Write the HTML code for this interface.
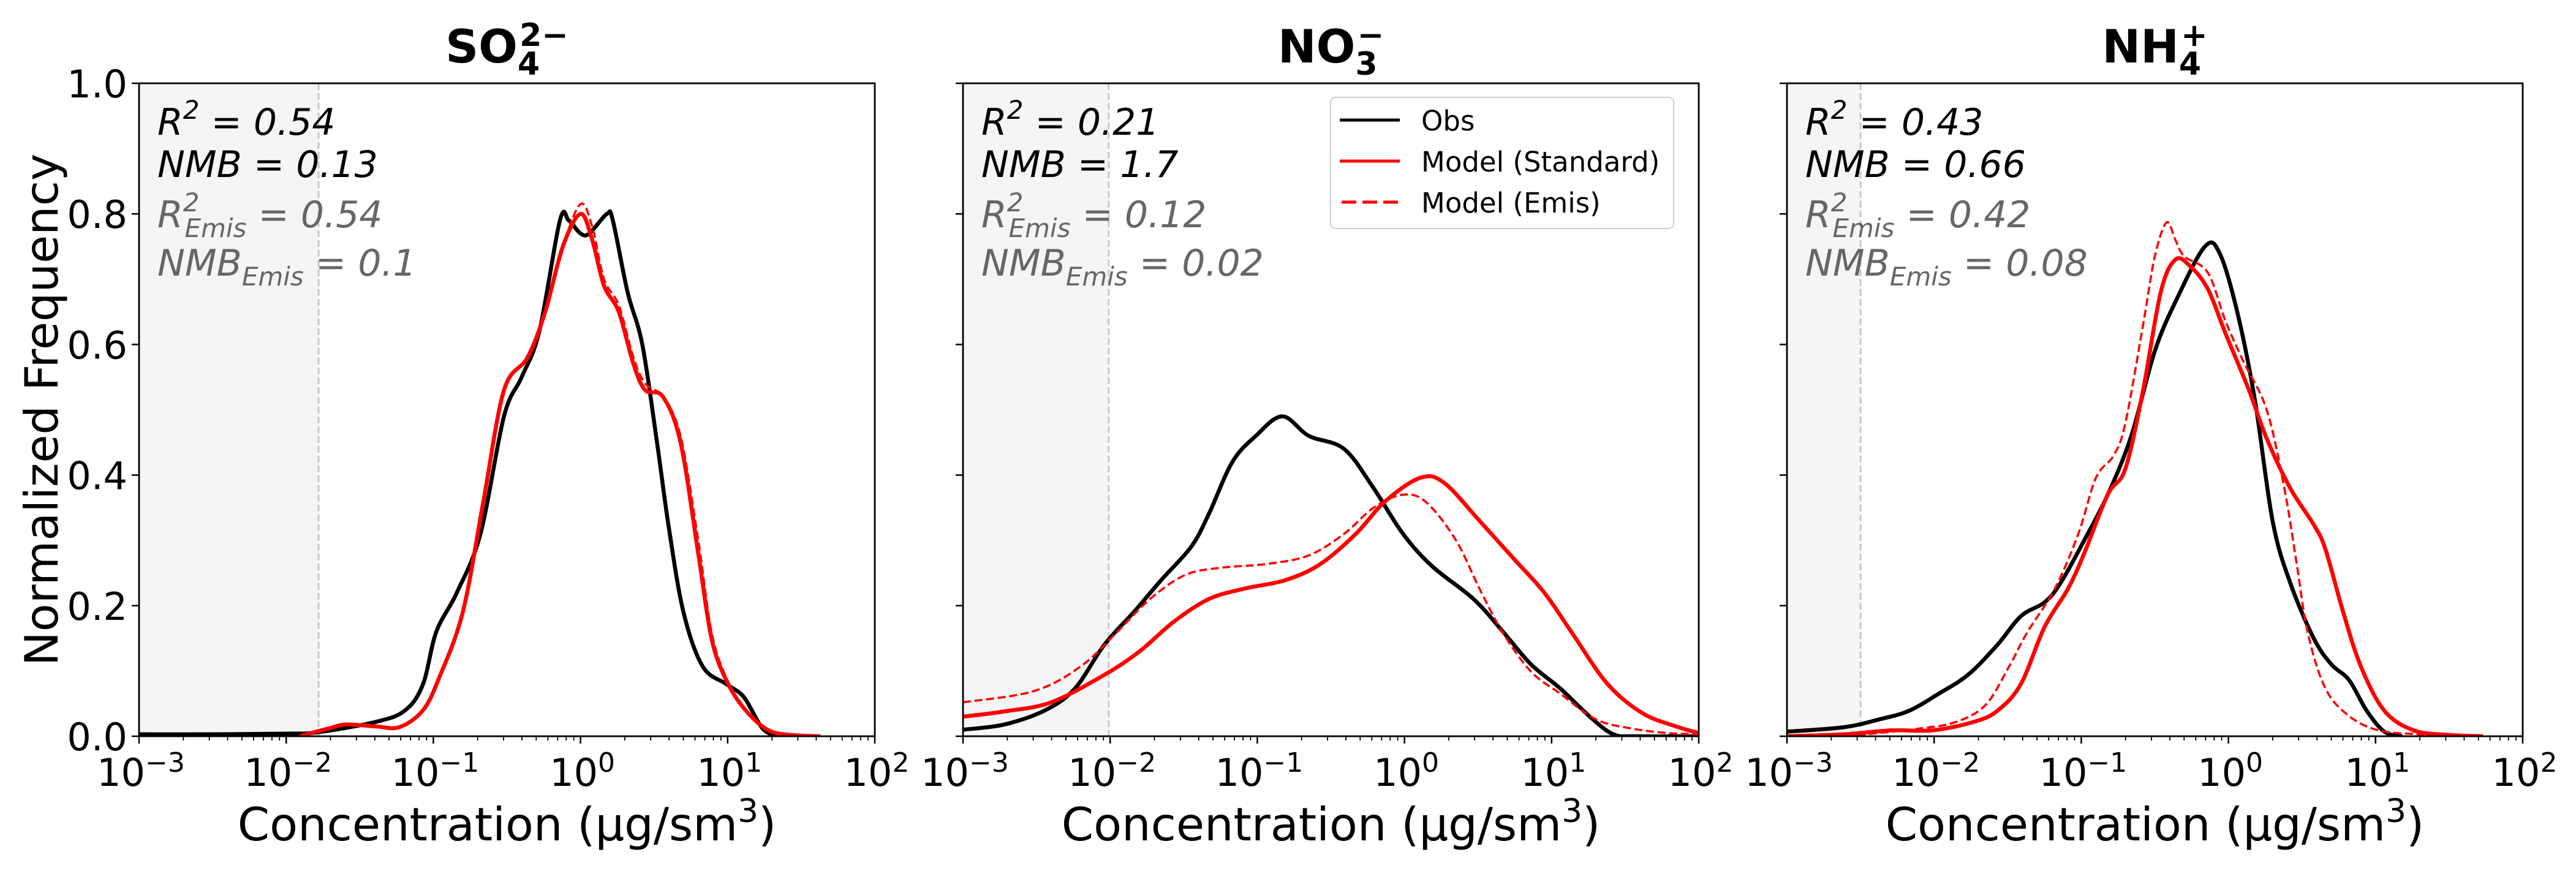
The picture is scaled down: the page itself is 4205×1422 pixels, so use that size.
<!DOCTYPE html>
<html><head><meta charset="utf-8"><style>
html,body{margin:0;padding:0;background:#fff;}
svg{display:block;font-family:"DejaVu Sans","Liberation Sans",sans-serif;}
</style></head><body>
<svg id="chart" width="4205" height="1422" viewBox="0 0 4205 1422" xmlns="http://www.w3.org/2000/svg"></svg>
<script>
// ---- data (x as log10 concentration, y normalized frequency) ----
const xTickExps = [-3, -2, -1, 0, 1, 2];
const yTicks = [0, 0.2, 0.4, 0.6, 0.8, 1.0];
const yTickLabels = ["0.0", "0.2", "0.4", "0.6", "0.8", "1.0"];

const so4ObsX = [-3,-2.5,-2,-1.79,-1.39,-1.19,-1.07,-0.98,-0.84,-0.68,-0.52,-0.40,-0.28,-0.14,-0.08,0.0,0.06,0.18,0.22,0.32,0.42,0.52,0.60,0.70,0.83,0.99,1.11,1.23,1.31,1.36];
const so4ObsY = [0.003,0.003,0.004,0.006,0.022,0.04,0.08,0.16,0.22,0.31,0.49,0.55,0.62,0.79,0.79,0.77,0.77,0.80,0.79,0.68,0.60,0.45,0.32,0.19,0.107,0.08,0.06,0.014,0.002,0];
const so4StdX = [-1.91,-1.71,-1.59,-1.39,-1.23,-1.07,-0.96,-0.80,-0.66,-0.52,-0.36,-0.24,-0.12,0.0,0.08,0.16,0.26,0.36,0.44,0.56,0.68,0.80,0.89,0.99,1.11,1.27,1.43,1.63];
const so4StdY = [0,0.012,0.018,0.015,0.014,0.04,0.09,0.19,0.36,0.53,0.58,0.65,0.75,0.80,0.76,0.69,0.65,0.57,0.53,0.52,0.45,0.28,0.15,0.086,0.043,0.01,0.002,0];
const so4EmisX = [-1.91,-1.71,-1.59,-1.39,-1.23,-1.07,-0.96,-0.80,-0.66,-0.52,-0.36,-0.24,-0.12,0.0,0.08,0.16,0.26,0.36,0.44,0.56,0.68,0.80,0.89,0.99,1.11,1.27,1.43,1.63];
const so4EmisY = [0,0.012,0.018,0.015,0.014,0.04,0.09,0.19,0.36,0.53,0.58,0.65,0.75,0.815,0.78,0.70,0.66,0.58,0.54,0.52,0.46,0.30,0.16,0.09,0.045,0.01,0.002,0];

const no3ObsX = [-3,-2.72,-2.44,-2.24,-2.04,-1.84,-1.65,-1.45,-1.33,-1.17,-1.01,-0.83,-0.65,-0.41,-0.21,-0.01,0.19,0.47,0.67,0.86,1.06,1.26,1.42,1.58,2.0];
const no3ObsY = [0.01,0.018,0.04,0.073,0.14,0.19,0.24,0.29,0.34,0.42,0.46,0.49,0.46,0.44,0.38,0.31,0.26,0.21,0.16,0.11,0.073,0.03,0.003,0,0];
const no3StdX = [-3,-2.72,-2.40,-2.04,-1.80,-1.57,-1.33,-1.09,-0.81,-0.57,-0.33,-0.13,0.11,0.27,0.51,0.75,0.95,1.14,1.38,1.62,1.86,2.0];
const no3StdY = [0.03,0.038,0.052,0.094,0.13,0.175,0.21,0.226,0.239,0.264,0.31,0.36,0.396,0.388,0.33,0.27,0.22,0.158,0.08,0.035,0.014,0.005];
const no3EmisX = [-3,-2.52,-2.2,-1.96,-1.73,-1.49,-1.25,-0.93,-0.65,-0.41,-0.21,-0.01,0.15,0.35,0.51,0.67,0.86,1.06,1.30,1.54,1.78,2.0];
const no3EmisY = [0.052,0.069,0.107,0.158,0.21,0.247,0.258,0.264,0.277,0.31,0.35,0.37,0.358,0.30,0.226,0.158,0.099,0.065,0.026,0.012,0.005,0.003];

const nh4ObsX = [-3,-2.61,-2.37,-2.17,-1.97,-1.77,-1.57,-1.41,-1.25,-1.14,-0.98,-0.82,-0.66,-0.50,-0.35,-0.16,-0.06,0.06,0.18,0.30,0.42,0.58,0.70,0.82,0.94,1.06,1.18];
const nh4ObsY = [0.007,0.014,0.026,0.039,0.065,0.094,0.14,0.184,0.205,0.235,0.30,0.37,0.46,0.59,0.67,0.75,0.74,0.65,0.515,0.33,0.235,0.15,0.11,0.086,0.039,0.007,0];
const nh4StdX = [-3,-2.61,-2.29,-2.01,-1.73,-1.57,-1.41,-1.25,-1.09,-0.98,-0.82,-0.70,-0.58,-0.46,-0.36,-0.26,-0.14,-0.02,0.14,0.26,0.42,0.58,0.66,0.78,0.90,1.06,1.26,1.50,1.73];
const nh4StdY = [0,0.003,0.009,0.009,0.022,0.039,0.08,0.167,0.226,0.28,0.37,0.41,0.53,0.68,0.73,0.72,0.685,0.617,0.53,0.456,0.38,0.324,0.286,0.19,0.107,0.039,0.009,0.002,0];
const nh4EmisX = [-2.6,-2.09,-1.85,-1.65,-1.49,-1.37,-1.18,-1.02,-0.90,-0.78,-0.70,-0.58,-0.50,-0.42,-0.36,-0.30,-0.14,-0.02,0.10,0.26,0.38,0.46,0.54,0.66,0.82,1.02,1.30,1.62];
const nh4EmisY = [0,0.012,0.022,0.048,0.107,0.158,0.226,0.31,0.396,0.43,0.48,0.63,0.735,0.787,0.76,0.735,0.71,0.636,0.575,0.50,0.38,0.27,0.158,0.073,0.031,0.009,0.003,0];

const panels = [
  {key:"so4", left:227, lod:-1.78, main:"SO", sub:"4", sup:"2\u2212", stats:["0.54","0.13","0.54","0.1"],
   obs:[so4ObsX,so4ObsY], std:[so4StdX,so4StdY], emis:[so4EmisX,so4EmisY]},
  {key:"no3", left:1572, lod:-2.01, main:"NO", sub:"3", sup:"\u2212", stats:["0.21","1.7","0.12","0.02"],
   obs:[no3ObsX,no3ObsY], std:[no3StdX,no3StdY], emis:[no3EmisX,no3EmisY]},
  {key:"nh4", left:2917, lod:-2.5, main:"NH", sub:"4", sup:"+", stats:["0.43","0.66","0.42","0.08"],
   obs:[nh4ObsX,nh4ObsY], std:[nh4StdX,nh4StdY], emis:[nh4EmisX,nh4EmisY]}
];

const W = 1201, TOP = 136, BOT = 1202;
const NS = "http://www.w3.org/2000/svg";
const svg = document.getElementById("chart");
function el(tag, attrs, parent){
  const e = document.createElementNS(NS, tag);
  for (const k in attrs) e.setAttribute(k, attrs[k]);
  (parent||svg).appendChild(e);
  return e;
}
function smoothPath(pts){
  let d = "M"+pts[0][0].toFixed(1)+","+pts[0][1].toFixed(1);
  for (let i=0;i<pts.length-1;i++){
    const p0=pts[Math.max(0,i-1)], p1=pts[i], p2=pts[i+1], p3=pts[Math.min(pts.length-1,i+2)];
    const c1x=p1[0]+(p2[0]-p0[0])/6, c1y=p1[1]+(p2[1]-p0[1])/6;
    const c2x=p2[0]-(p3[0]-p1[0])/6, c2y=p2[1]-(p3[1]-p1[1])/6;
    d+=" C"+c1x.toFixed(1)+","+c1y.toFixed(1)+" "+c2x.toFixed(1)+","+c2y.toFixed(1)+" "+p2[0].toFixed(1)+","+p2[1].toFixed(1);
  }
  return d;
}

panels.forEach((p, pi) => {
  const xs = e => p.left + (e + 3) / 5 * W;
  const ys = v => BOT - v * (BOT - TOP);
  const g = el("g", {});
  
  

  const sh = el("rect", {x:p.left, y:TOP, width:xs(p.lod)-p.left, height:BOT-TOP, fill:"#f5f5f5"}, g);
  
  
  const vl = el("line", {x1:xs(p.lod), x2:xs(p.lod), y1:TOP, y2:BOT, stroke:"#c8c8c8", "stroke-width":3, "stroke-dasharray":"11,5"}, g);
  
  

  const series = [
    {d:p.obs, color:"#000", w:6.5, dash:null, name:"obs-curve"},
    {d:p.emis, color:"#ff0000", w:3.6, dash:"13,6", name:"model-emis-curve"},
    {d:p.std, color:"#ff0000", w:6.5, dash:null, name:"model-standard-curve"}
  ];
  const clip = el("clipPath", {id:"clip"+pi}, g);
  el("rect", {x:p.left, y:TOP-10, width:W, height:BOT-TOP+10}, clip);
  series.forEach(s => {
    const pts = s.d[0].map((x,i) => [xs(x), ys(s.d[1][i])]);
    const attrs = {d:smoothPath(pts), fill:"none", stroke:s.color, "stroke-width":s.w, "stroke-linejoin":"round", "clip-path":"url(#clip"+pi+")"};
    if (s.dash) attrs["stroke-dasharray"] = s.dash;
    const path = el("path", attrs, g);
    
    
  });

  const fr = el("rect", {x:p.left, y:TOP, width:W, height:BOT-TOP, fill:"none", stroke:"#000", "stroke-width":2.8}, g);
  
  

  xTickExps.forEach(e => {
    const x = xs(e);
    el("line", {x1:x, x2:x, y1:BOT, y2:BOT+12, stroke:"#000", "stroke-width":2.5}, g);
    const t = el("text", {x:x+3, y:1283, "font-size":62, "text-anchor":"middle", fill:"#000"}, g);
    
    
    const a = el("tspan", {}, t); a.textContent = "10";
    const b = el("tspan", {dy:-23, "font-size":44}, t); b.textContent = (e < 0 ? "\u2212" : "") + Math.abs(e);
    if (e < 2) for (let m=2;m<=9;m++){
      const xm = xs(e + Math.log10(m));
      el("line", {x1:xm, x2:xm, y1:BOT, y2:BOT+7, stroke:"#000", "stroke-width":1.8}, g);
    }
  });
  yTicks.forEach((v,i) => {
    const y = ys(v);
    el("line", {x1:p.left-12, x2:p.left, y1:y, y2:y, stroke:"#000", "stroke-width":2.5}, g);
    if (pi === 0){
      const t = el("text", {x:208, y:y+23, "font-size":62, "text-anchor":"end", fill:"#000"}, g);
      
      
      t.textContent = yTickLabels[i];
    }
  });

  const cx = p.left + W/2;
  const tt = el("text", {x:cx, y:102, "font-size":75, "font-weight":"bold", "text-anchor":"middle", fill:"#000"}, g);
  
  
  const t1 = el("tspan", {}, tt); t1.textContent = p.main;
  const t2 = el("tspan", {dy:20, "font-size":52}, tt); t2.textContent = p.sub;
  const t3 = el("tspan", {dx:-33, dy:-47, "font-size":52}, tt); t3.textContent = p.sup;

  const xl = el("text", {x:cx, y:1372, "font-size":75, "text-anchor":"middle", fill:"#000"}, g);
  
  
  const x1 = el("tspan", {}, xl); x1.textContent = "Concentration (\u00b5g/sm";
  const x2 = el("tspan", {dy:-30, "font-size":53}, xl); x2.textContent = "3";
  const x3 = el("tspan", {dy:30}, xl); x3.textContent = ")";

  const ax = p.left + 30;
  const s1 = el("text", {x:ax, y:220, "font-size":60, "font-style":"italic", fill:"#000"}, g);
  
  
  let a = el("tspan", {}, s1); a.textContent = "R";
  a = el("tspan", {dy:-26, "font-size":42}, s1); a.textContent = "2";
  a = el("tspan", {dy:26}, s1); a.textContent = " = " + p.stats[0];
  const s2 = el("text", {x:ax, y:289, "font-size":60, "font-style":"italic", fill:"#000"}, g);
  
  
  s2.textContent = "NMB = " + p.stats[1];
  const s3 = el("text", {x:ax, y:371, "font-size":60, "font-style":"italic", fill:"#666"}, g);
  
  
  a = el("tspan", {}, s3); a.textContent = "R";
  a = el("tspan", {dy:-26, "font-size":42}, s3); a.textContent = "2";
  a = el("tspan", {dx:-24, dy:42, "font-size":42}, s3); a.textContent = "Emis";
  a = el("tspan", {dy:-16}, s3); a.textContent = " = " + p.stats[2];
  const s4 = el("text", {x:ax, y:450, "font-size":60, "font-style":"italic", fill:"#666"}, g);
  
  
  a = el("tspan", {}, s4); a.textContent = "NMB";
  a = el("tspan", {dy:16, "font-size":42}, s4); a.textContent = "Emis";
  a = el("tspan", {dy:-16}, s4); a.textContent = " = " + p.stats[3];
});

const yl = el("text", {x:0, y:0, "font-size":75, "text-anchor":"middle", fill:"#000", transform:"translate(94,669) rotate(-90)"});


yl.textContent = "Normalized Frequency";

const lg = el("g", {});


el("rect", {x:2172, y:159, width:560, height:214, rx:8, fill:"#fff", "fill-opacity":0.8, stroke:"#d0d0d0", "stroke-width":2}, lg);
const legItems = [
  {label:"Obs", color:"#000", w:5, dash:null, y:196, name:"legend-entry-obs"},
  {label:"Model (Standard)", color:"#ff0000", w:5, dash:null, y:263, name:"legend-entry-standard"},
  {label:"Model (Emis)", color:"#ff0000", w:5, dash:"24,10", y:330, name:"legend-entry-emis"}
];
legItems.forEach(it => {
  const gi = el("g", {}, lg);
  
  
  const at = {x1:it.dash?2190:2187, x2:2285, y1:it.y, y2:it.y, stroke:it.color, "stroke-width":it.w};
  if (it.dash) at["stroke-dasharray"] = it.dash;
  el("line", at, gi);
  const t = el("text", {x:2320, y:it.y+17, "font-size":45, fill:"#000"}, gi);
  t.textContent = it.label;
});
</script>
</body></html>
